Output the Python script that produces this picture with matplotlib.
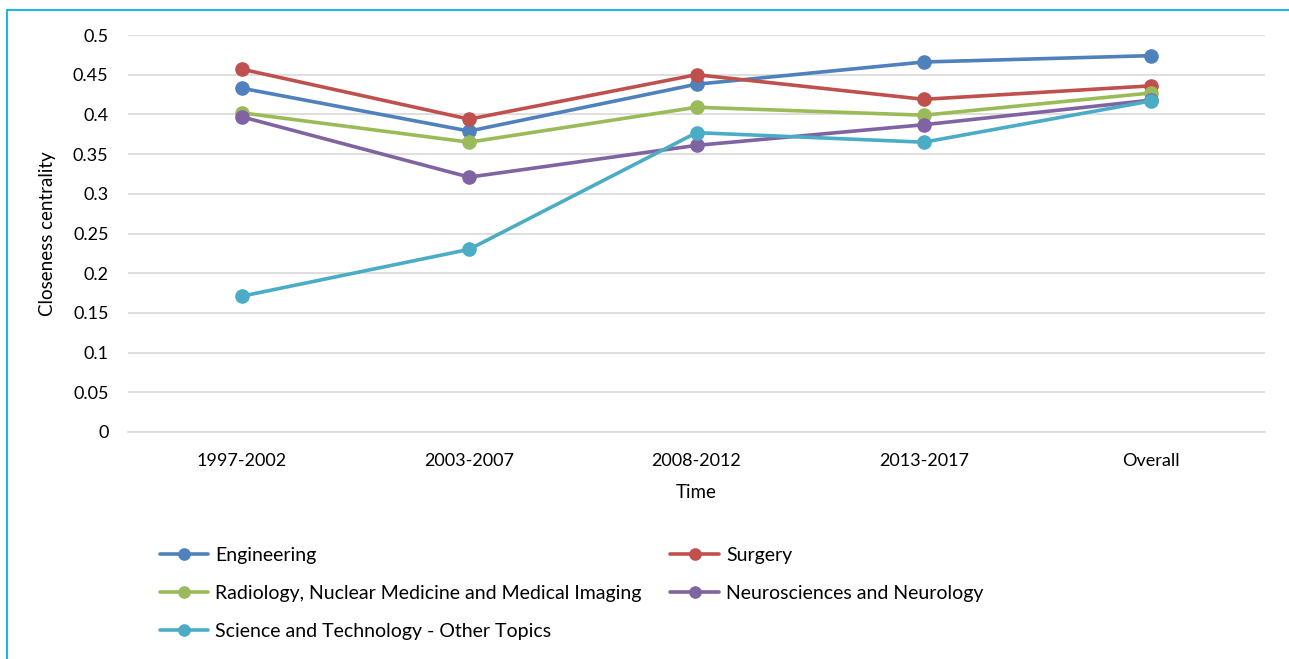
import matplotlib
matplotlib.use("Agg")
import matplotlib.pyplot as plt
from matplotlib.patches import Rectangle

categories = ["1997-2002", "2003-2007", "2008-2012", "2013-2017", "Overall"]
engineering = [0.433, 0.379, 0.438, 0.466, 0.474]
surgery = [0.457, 0.394, 0.450, 0.419, 0.436]
radiology = [0.402, 0.365, 0.409, 0.399, 0.427]
neuro = [0.397, 0.321, 0.361, 0.387, 0.418]
scitech = [0.171, 0.230, 0.377, 0.365, 0.417]

series = [
    ("Engineering", engineering, "#4F81BD"),
    ("Surgery", surgery, "#C0504D"),
    ("Radiology, Nuclear Medicine and Medical Imaging", radiology, "#9BBB59"),
    ("Neurosciences and Neurology", neuro, "#8064A2"),
    ("Science and Technology - Other Topics", scitech, "#4BACC6"),
]

plt.rcParams['font.family'] = ['Lato', 'DejaVu Sans']

W, H = 1289, 659
fig = plt.figure(figsize=(W / 100, H / 100), dpi=100)
ax = fig.add_axes([128 / W, 1 - 432 / H, (1265 - 128) / W, (432 - 35) / H])

x = list(range(len(categories)))
handles = {}
for name, vals, col in series:
    h, = ax.plot(x, vals, color=col, lw=2.6, marker='o', ms=9.5, label=name,
                 solid_capstyle='round', zorder=3)
    handles[name] = h

ax.set_xlim(-0.5, len(categories) - 0.5)
ax.set_ylim(0, 0.5)
ax.set_yticks([i * 0.05 for i in range(11)])
ax.set_yticklabels(["0", "0.05", "0.1", "0.15", "0.2", "0.25", "0.3", "0.35", "0.4", "0.45", "0.5"])
ax.set_xticks(x)
ax.set_xticklabels(categories)
ax.tick_params(axis='both', length=0, labelsize=13, colors='#000000', pad=14)
ax.tick_params(axis='x', pad=15)
ax.grid(axis='y', color='#D9D9D9', lw=1.2, zorder=0)
for s in ['top', 'right', 'left']:
    ax.spines[s].set_visible(False)
ax.spines['bottom'].set_color('#D9D9D9')
ax.spines['bottom'].set_linewidth(1.2)
ax.set_ylabel("Closeness centrality", fontsize=13.5, labelpad=12)
ax.set_xlabel("Time", fontsize=13.5, labelpad=11)

order = ["Engineering", "Radiology, Nuclear Medicine and Medical Imaging",
         "Science and Technology - Other Topics", "Surgery", "Neurosciences and Neurology"]
fig.legend([handles[n] for n in order], order, ncol=2, loc='upper left',
           bbox_to_anchor=(142 / W, 1 - 529 / H), frameon=False, fontsize=14,
           handlelength=2.5, columnspacing=1.5, labelspacing=1.1, handletextpad=0.35,
           markerscale=0.85)

fig.patches.append(Rectangle((7 / W, -0.01), 1.1, 1 - 10 / H + 0.01,
                             transform=fig.transFigure, fill=False,
                             edgecolor='#00B0F0', lw=1.3))

fig.savefig("out.png", dpi=100)
